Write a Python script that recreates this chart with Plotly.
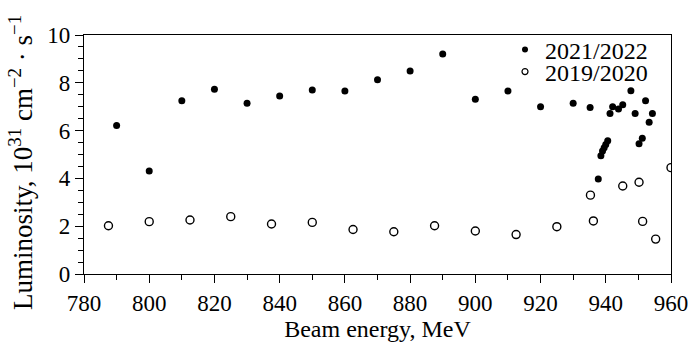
import plotly.graph_objects as go

# 2021/2022 (filled)
energy_2122 = [790, 800, 810, 820, 830, 840, 850, 860, 870, 880, 890, 900, 910, 920,
               930, 935.2, 937.7, 938.5, 939.0, 939.5, 940.0, 940.6, 941.3, 942.1,
               943.9, 945.2, 947.7, 949.0, 950.2, 951.2, 952.2, 953.3, 954.3]
lumi_2122 = [6.21, 4.31, 7.25, 7.73, 7.14, 7.45, 7.70, 7.66, 8.13, 8.49, 9.2, 7.31, 7.66, 7.0,
             7.14, 6.97, 3.97, 4.95, 5.15, 5.28, 5.42, 5.58, 6.72, 7.0,
             6.9, 7.08, 7.67, 6.72, 5.45, 5.68, 7.25, 6.35, 6.72]

# 2019/2020 (open)
energy_1920 = [787.5, 800, 812.5, 825, 837.5, 850, 862.5, 875, 887.5, 900, 912.5, 925,
               935.3, 936.2, 945.2, 950.2, 951.3, 955.3, 960]
lumi_1920 = [2.02, 2.19, 2.26, 2.40, 2.09, 2.16, 1.86, 1.77, 2.02, 1.80, 1.65, 1.98,
             3.3, 2.22, 3.68, 3.84, 2.2, 1.46, 4.45]

labels = ["2021/2022", "2019/2020"]
x_range = [780, 960]
y_range = [0, 10]

FONT = "Liberation Serif"

fig = go.Figure()
fig.add_trace(go.Scatter(x=energy_2122, y=lumi_2122, mode="markers", showlegend=False,
                         marker=dict(symbol="circle", size=7, color="black", line=dict(width=0))))
fig.add_trace(go.Scatter(x=energy_1920, y=lumi_1920, mode="markers", showlegend=False,
                         marker=dict(symbol="circle-open", size=8, color="black", line=dict(width=1.4))))
# legend entries (one legend per row for tight spacing); they live on the overlay axes
fig.add_trace(go.Scatter(x=[None], y=[None], mode="markers", name=labels[0], legend="legend",
                         xaxis="x2", yaxis="y2",
                         marker=dict(symbol="circle", size=6, color="black")))
fig.add_trace(go.Scatter(x=[None], y=[None], mode="markers", name=labels[1], legend="legend2",
                         xaxis="x2", yaxis="y2",
                         marker=dict(symbol="circle-open", size=6, color="black", line=dict(width=1.2))))

tick_font = dict(family=FONT, size=23, color="black")

fig.update_layout(
    width=691, height=343,
    margin=dict(l=84, r=20, t=35, b=69),
    paper_bgcolor="white", plot_bgcolor="white",
    font=dict(family=FONT, size=22, color="black"),
    xaxis=dict(range=x_range, tickmode="linear", dtick=20, tick0=780,
               showgrid=False, zeroline=False, showline=True, linecolor="black", linewidth=1.3,
               mirror=True, ticks="outside", ticklen=8, tickwidth=1.2, tickcolor="black",
               tickfont=tick_font, automargin=False,
               title=dict(text="Beam energy, MeV", font=dict(family=FONT, size=24, color="black"),
                          standoff=2)),
    yaxis=dict(range=y_range, tickmode="linear", dtick=2, tick0=0,
               showgrid=False, zeroline=False, showline=True, linecolor="black", linewidth=1.3,
               mirror=True, ticks="outside", ticklen=8, tickwidth=1.2, tickcolor="black",
               tickfont=tick_font, automargin=False),
    # overlay axes that only carry the short minor ticks
    xaxis2=dict(range=x_range, overlaying="x", anchor="y", side="bottom",
                tickmode="linear", dtick=10, tick0=780, ticks="outside", ticklen=5,
                tickwidth=1.2, tickcolor="black", showticklabels=False, showgrid=False,
                zeroline=False, showline=False, automargin=False),
    yaxis2=dict(range=y_range, overlaying="y", anchor="x", side="left",
                tickmode="linear", dtick=0.5, tick0=0, ticks="outside", ticklen=5,
                tickwidth=1.2, tickcolor="black", showticklabels=False, showgrid=False,
                zeroline=False, showline=False, automargin=False),
    legend=dict(x=(546 - 41 - 84) / 587, y=(274 - 50) / 239),
    legend2=dict(x=(546 - 41 - 84) / 587, y=(274 - 72) / 239),
    annotations=[dict(text="Luminosity, 10<sup>31</sup> cm<sup>−2</sup> · s<sup>−1</sup>",
                      xref="paper", yref="paper", x=(21 - 84) / 587, y=(274 - 163) / 239,
                      xanchor="center", yanchor="middle", textangle=-90, showarrow=False,
                      font=dict(family=FONT, size=27, color="black"))],
)
for name in ("legend", "legend2"):
    fig.layout[name].update(xanchor="left", yanchor="middle", bgcolor="rgba(0,0,0,0)",
                            font=dict(family=FONT, size=24, color="black"), itemwidth=30,
                            borderwidth=0)

fig.write_html("out.html")
